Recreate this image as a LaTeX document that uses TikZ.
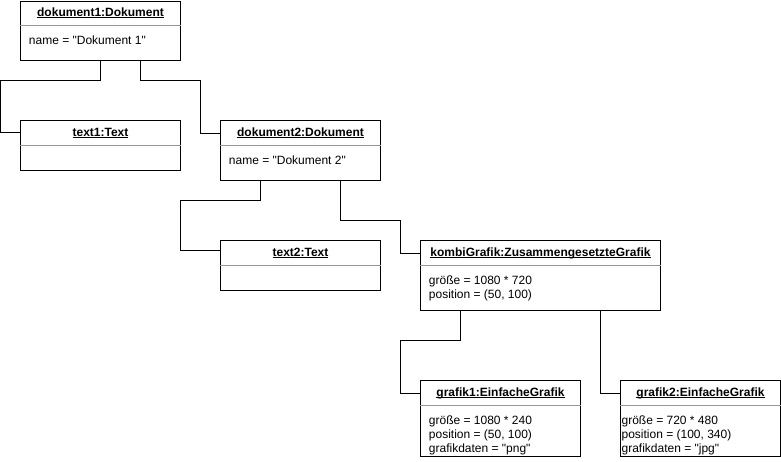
\documentclass[tikz,border=0pt]{standalone}
\usepackage{fontspec}
\setmainfont{Liberation Sans}[Ligatures=TeXOff]
\definecolor{sepgray}{RGB}{150,150,150}
% object name, bold with a thin underline just below the baseline
\newcommand\objname[1]{\setbox0\hbox{\bfseries #1}\rlap{\rule[-1.3pt]{\wd0}{0.6pt}}\box0}
\begin{document}
\begin{tikzpicture}[x=0.75pt,y=-0.75pt,
  objbox/.style={draw=black, line width=0.75pt, anchor=north west, inner sep=0pt, fill=white},
  objtitle/.style={anchor=base, inner sep=0pt, font=\fontsize{9pt}{10.5pt}\selectfont},
  attrs/.style={anchor=north west, inner sep=0pt, align=left, font=\fontsize{9pt}{10.5pt}\selectfont},
  sep/.style={draw=sepgray, line width=0.75pt},
  conn/.style={draw=black, line width=0.75pt}]
\useasboundingbox (0,0) rectangle (781,461);

% ---- object boxes ----
\node[objbox, minimum width=120pt, minimum height=44.6pt] (d1) at (20,0.5) {};
\node[objbox, minimum width=120pt, minimum height=37.5pt] (t1) at (20,120) {};
\node[objbox, minimum width=120pt, minimum height=45pt]   (d2) at (220,120) {};
\node[objbox, minimum width=120pt, minimum height=37.5pt] (t2) at (220,240) {};
\node[objbox, minimum width=180pt, minimum height=52.5pt] (kg) at (420,240) {};
\node[objbox, minimum width=120pt, minimum height=57pt]   (g1) at (420,380) {};
\node[objbox, minimum width=120pt, minimum height=57pt]   (g2) at (620,380) {};

% ---- separators between name and attribute compartments ----
\foreach \b in {d1,t1,d2,t2,kg,g1,g2}
  \draw[sep] ([yshift=-18.75pt]\b.north west) -- ([yshift=-18.75pt]\b.north east);

% ---- object names ----
\node[objtitle] (d1n) at ([yshift=-12pt]d1.north) {\objname{dokument1:Dokument}};
\node[objtitle] (t1n) at ([yshift=-12pt]t1.north) {\objname{text1:Text}};
\node[objtitle] (d2n) at ([yshift=-12pt]d2.north) {\objname{dokument2:Dokument}};
\node[objtitle] (t2n) at ([yshift=-12pt]t2.north) {\objname{text2:Text}};
\node[objtitle] (kgn) at ([yshift=-12pt]kg.north) {\objname{kombiGrafik:ZusammengesetzteGrafik}};
\node[objtitle] (g1n) at ([yshift=-12pt]g1.north) {\objname{grafik1:EinfacheGrafik}};
\node[objtitle] (g2n) at ([yshift=-12pt]g2.north) {\objname{grafik2:EinfacheGrafik}};

% ---- attributes ----
\node[attrs] (d1a) at ([xshift=6.5pt,yshift=-26.6pt]d1.north west) {name = "Dokument 1"};
\node[attrs] (d2a) at ([xshift=6.5pt,yshift=-26.6pt]d2.north west) {name = "Dokument 2"};
\node[attrs] (kga) at ([xshift=6.5pt,yshift=-26.6pt]kg.north west) {größe = 1080 * 720\\position = (50, 100)};
\node[attrs] (g1a) at ([xshift=6.5pt,yshift=-26.6pt]g1.north west) {größe = 1080 * 240\\position = (50, 100)\\grafikdaten = "png"};
\node[attrs] (g2a) at ([xshift=1pt,yshift=-26.6pt]g2.north west)   {größe = 720 * 480\\position = (100, 340)\\grafikdaten = "jpg"};

% ---- links ----
\coordinate (j1) at (0,80);
\coordinate (j2) at (200,80);
\coordinate (j3) at (180,200);
\coordinate (j4) at (400,220);
\coordinate (j5) at (400,340);
\draw[conn] (d1.south) |- (j1) |- ([yshift=-9.6pt]t1.north west);
\draw[conn] ([xshift=30pt]d1.south) |- (j2) |- ([yshift=-10.3pt]d2.north west);
\draw[conn] ([xshift=-30pt]d2.south) |- (j3) |- ([yshift=-7.5pt]t2.north west);
\draw[conn] ([xshift=30pt]d2.south) |- (j4) |- ([yshift=-9.8pt]kg.north west);
\draw[conn] ([xshift=-60pt]kg.south) |- (j5) |- ([yshift=-9.8pt]g1.north west);
\draw[conn] ([xshift=45pt]kg.south) |- ([yshift=-9.8pt]g2.north west);
\end{tikzpicture}
\end{document}
